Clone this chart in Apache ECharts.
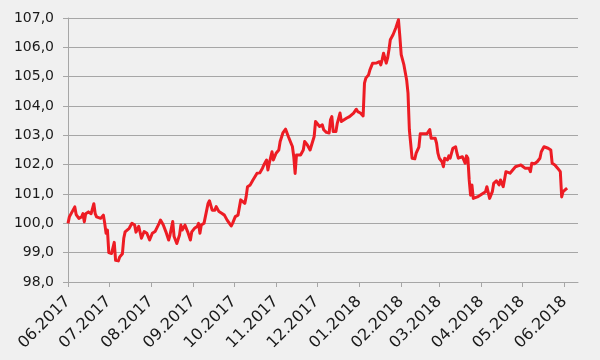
<!DOCTYPE html>
<html>
<head>
<meta charset="utf-8">
<script src="https://cdn.jsdelivr.net/npm/echarts@6/dist/echarts.min.js"></script>
<style>
html,body{margin:0;padding:0;background:#f0f0f0;}
#c{width:600px;height:360px;}
</style>
</head>
<body>
<div id="c"></div>
<script>
var dates = [
'2017-06-01','2017-06-02','2017-06-04','2017-06-06','2017-06-07','2017-06-09','2017-06-11','2017-06-12','2017-06-13','2017-06-14','2017-06-16','2017-06-18','2017-06-20','2017-06-21','2017-06-22','2017-06-25','2017-06-27','2017-06-28','2017-06-29','2017-06-30',
'2017-07-01','2017-07-02','2017-07-03','2017-07-05','2017-07-06','2017-07-08','2017-07-09','2017-07-11','2017-07-12','2017-07-13','2017-07-16','2017-07-18','2017-07-20','2017-07-21','2017-07-23','2017-07-25','2017-07-27','2017-07-29','2017-07-31',
'2017-08-02','2017-08-04','2017-08-07','2017-08-08','2017-08-10','2017-08-12','2017-08-14','2017-08-15','2017-08-17','2017-08-18','2017-08-20','2017-08-22','2017-08-23','2017-08-24','2017-08-26','2017-08-27','2017-08-28','2017-08-30','2017-08-31',
'2017-09-02','2017-09-04','2017-09-05','2017-09-06','2017-09-07','2017-09-09','2017-09-10','2017-09-12','2017-09-13','2017-09-15','2017-09-17','2017-09-18','2017-09-20','2017-09-21','2017-09-22','2017-09-24','2017-09-26','2017-09-29','2017-09-30',
'2017-10-02','2017-10-04','2017-10-05','2017-10-06','2017-10-07','2017-10-09','2017-10-10','2017-10-11','2017-10-13','2017-10-15','2017-10-16','2017-10-18','2017-10-19','2017-10-20','2017-10-22','2017-10-23','2017-10-25','2017-10-26','2017-10-27','2017-10-29','2017-10-30',
'2017-11-01','2017-11-03','2017-11-04','2017-11-06','2017-11-08','2017-11-10','2017-11-12','2017-11-13','2017-11-14','2017-11-15','2017-11-16','2017-11-17','2017-11-19','2017-11-21','2017-11-22','2017-11-24','2017-11-26','2017-11-27','2017-11-29','2017-11-30',
'2017-12-01','2017-12-03','2017-12-05','2017-12-06','2017-12-08','2017-12-10','2017-12-11','2017-12-12','2017-12-13','2017-12-15','2017-12-16','2017-12-18','2017-12-19','2017-12-21','2017-12-23','2017-12-25','2017-12-26','2017-12-28','2017-12-30','2017-12-31',
'2018-01-02','2018-01-04','2018-01-05','2018-01-06','2018-01-08','2018-01-09','2018-01-10','2018-01-11','2018-01-12','2018-01-14','2018-01-16','2018-01-17','2018-01-18','2018-01-19','2018-01-20','2018-01-21','2018-01-22','2018-01-23','2018-01-24','2018-01-26','2018-01-28','2018-01-30','2018-01-31',
'2018-02-01','2018-02-02','2018-02-03','2018-02-05','2018-02-06','2018-02-07','2018-02-08','2018-02-09','2018-02-11','2018-02-12','2018-02-14','2018-02-15','2018-02-18','2018-02-20','2018-02-21','2018-02-22','2018-02-23','2018-02-24','2018-02-26','2018-02-27','2018-02-28',
'2018-03-01','2018-03-03','2018-03-04','2018-03-05','2018-03-07','2018-03-08','2018-03-09','2018-03-10','2018-03-11','2018-03-13','2018-03-14','2018-03-15','2018-03-16','2018-03-18','2018-03-19','2018-03-20','2018-03-21','2018-03-22','2018-03-23','2018-03-24','2018-03-25','2018-03-26','2018-03-29','2018-03-31',
'2018-04-04','2018-04-05','2018-04-07','2018-04-09','2018-04-10','2018-04-12','2018-04-14','2018-04-15','2018-04-17','2018-04-19','2018-04-20','2018-04-22','2018-04-24','2018-04-26','2018-04-28','2018-04-30',
'2018-05-03','2018-05-06','2018-05-07','2018-05-08','2018-05-10','2018-05-12','2018-05-14','2018-05-15','2018-05-17','2018-05-18','2018-05-20','2018-05-22','2018-05-23','2018-05-25','2018-05-27','2018-05-29','2018-05-30','2018-05-31','2018-06-03'
];
var values = [
100.0,100.22,100.39,100.56,100.3,100.17,100.22,100.33,100.05,100.33,100.39,100.33,100.67,100.33,100.22,100.17,100.28,100.0,99.66,99.77,
99.0,99.0,98.97,99.35,98.74,98.72,98.85,98.96,99.49,99.71,99.83,100.0,99.94,99.7,99.9,99.49,99.72,99.66,99.43,
99.66,99.72,100.0,100.11,99.95,99.71,99.43,99.6,100.06,99.55,99.31,99.6,99.94,99.77,99.94,99.89,99.71,99.43,99.71,
99.83,99.89,100.0,99.66,99.94,100.0,100.06,100.68,100.77,100.45,100.45,100.57,100.4,100.45,100.34,100.28,100.11,99.91,100.0,
100.23,100.28,100.28,100.8,100.74,100.68,100.91,101.25,101.31,101.48,101.54,101.71,101.77,101.72,101.88,101.99,102.16,101.82,102.05,102.44,102.16,
102.39,102.5,102.79,103.08,103.21,102.96,102.73,102.62,102.27,101.7,102.33,102.27,102.33,102.5,102.79,102.67,102.5,102.5,102.96,103.47,
103.41,103.3,103.36,103.19,103.1,103.08,103.53,103.64,103.13,103.13,103.41,103.76,103.47,103.53,103.59,103.64,103.7,103.76,103.89,103.81,
103.76,103.66,104.78,104.95,105.06,105.23,105.18,105.46,105.51,105.47,105.51,105.4,105.58,105.8,105.63,105.46,105.63,105.92,106.26,106.43,106.66,106.94,106.37,
105.75,105.69,105.4,104.89,104.44,103.19,103.13,102.22,102.2,102.39,102.6,103.05,103.05,103.05,103.13,103.2,102.9,102.87,102.9,102.73,102.39,
102.22,102.1,101.93,102.22,102.16,102.3,102.22,102.39,102.56,102.61,102.39,102.22,102.16,102.27,102.22,102.05,102.3,102.22,101.48,100.96,101.31,100.85,100.9,100.96,
101.08,101.25,100.85,101.08,101.36,101.45,101.31,101.48,101.25,101.76,101.82,101.71,101.82,101.93,101.96,101.99,
101.88,101.88,101.76,102.05,102.03,102.1,102.22,102.44,102.61,102.67,102.56,102.5,102.05,101.99,101.88,101.76,100.9,101.08,101.2
];
var tickMonths = ['2017-06-01','2017-07-01','2017-08-01','2017-09-01','2017-10-01','2017-11-01','2017-12-01','2018-01-01','2018-02-01','2018-03-01','2018-04-01','2018-05-01','2018-06-01'];
var xMin = '2017-06-01';
var xMax = '2018-06-11';
var yMin = 98, yMax = 107, yStep = 1;

function ts(s){ var p = s.split('-'); return Date.UTC(+p[0], +p[1]-1, +p[2]); }
var tickVals = tickMonths.map(ts);
var seriesData = dates.map(function(d,i){ return [ts(d), values[i]]; });

var chart = echarts.init(document.getElementById('c'), null, {renderer:'canvas'});
chart.setOption({
  backgroundColor:'#f0f0f0',
  animation:false,
  grid:{left:68, right:22, top:18, bottom:78, containLabel:false},
  xAxis:{
    type:'value',
    min:ts(xMin), max:ts(xMax),
    axisLine:{show:true, lineStyle:{color:'#a6a6a6', width:1}},
    axisTick:{show:true, length:5, customValues:tickVals, lineStyle:{color:'#a6a6a6'}},
    axisLabel:{
      customValues:tickVals,
      rotate:45, margin:17, color:'#1a1a1a', fontSize:16, fontFamily:'DejaVu Sans',
      formatter:function(v){ var d=new Date(v); var m=d.getUTCMonth()+1; return (m<10?'0':'')+m+'.'+d.getUTCFullYear(); }
    },
    splitLine:{show:false}
  },
  yAxis:{
    type:'value', min:yMin, max:yMax, interval:yStep,
    axisLine:{show:true, lineStyle:{color:'#a6a6a6', width:1}},
    axisTick:{show:true, length:5, lineStyle:{color:'#a6a6a6'}},
    axisLabel:{color:'#1a1a1a', fontSize:14, fontFamily:'DejaVu Sans', margin:14,
      formatter:function(v){ return v.toFixed(1).replace('.', ','); }},
    splitLine:{show:true, lineStyle:{color:'#a6a6a6', width:1}}
  },
  series:[{
    type:'line', data:seriesData, showSymbol:false, symbol:'none',
    lineStyle:{color:'#ed1c24', width:3, join:'round'},
    itemStyle:{color:'#ed1c24'}
  }]
});
</script>
</body>
</html>
